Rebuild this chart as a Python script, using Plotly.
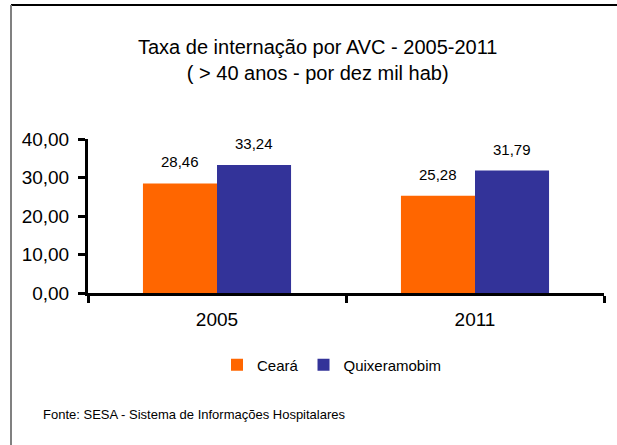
import plotly.graph_objects as go

categories = ["2005", "2011"]
ceara = [28.46, 25.28]
quixeramobim = [33.24, 31.79]
series_names = ["Ceará", "Quixeramobim"]
y_ticks = [0, 10, 20, 30, 40]

W, H = 617, 445
L, R, T, B = 88, 13, 139, 152
pw, ph = W - L - R, H - T - B

def px_x(p):
    return (p - L) / pw

def px_y(p):
    return (H - B - p) / ph

FONT = "Liberation Sans, Arial, sans-serif"

fig = go.Figure()
fig.add_bar(x=categories, y=ceara, name=series_names[0], marker=dict(color="#FF6600", line=dict(width=0)))
fig.add_bar(x=categories, y=quixeramobim, name=series_names[1], marker=dict(color="#333399", line=dict(width=0)))

annotations = []
for vals, shift in ((ceara, -37), (quixeramobim, 37)):
    for i, v in enumerate(vals):
        annotations.append(dict(
            x=i, y=v, xref="x", yref="y", text=f"{v:.2f}".replace(".", ","),
            showarrow=False, xshift=shift, yanchor="bottom", yshift=11,
            font=dict(family=FONT, size=15, color="#000000")))

annotations.append(dict(
    text="Taxa de internação por AVC - 2005-2011<br>( > 40 anos - por dez mil hab)",
    xref="paper", yref="paper", x=px_x(318), y=px_y(60), xanchor="center", yanchor="middle",
    showarrow=False, font=dict(family=FONT, size=20, color="#000000")))
annotations.append(dict(
    text="Fonte: SESA - Sistema de Informações Hospitalares",
    xref="paper", yref="paper", x=px_x(41), y=px_y(414), xanchor="left", yanchor="middle",
    showarrow=False, font=dict(family=FONT, size=13, color="#000000")))

fig.update_layout(
    width=W, height=H, autosize=False,
    margin=dict(l=L, r=R, t=T, b=B, pad=0),
    paper_bgcolor="white", plot_bgcolor="white",
    separators=",.",
    barmode="group", bargap=0.426, bargroupgap=0,
    showlegend=True,
    legend=dict(orientation="h", x=px_x(217), y=px_y(365), xanchor="left", yanchor="middle",
                font=dict(family=FONT, size=15, color="#000000"), itemwidth=30,
                bgcolor="rgba(0,0,0,0)", borderwidth=0),
    xaxis=dict(type="category", categoryorder="array", categoryarray=categories,
               range=[-0.5, 1.5], showline=True, linecolor="black", linewidth=3,
               ticks="outside", tickson="boundaries", ticklen=7, tickwidth=3, tickcolor="black",
               ticklabelstandoff=7,
               tickfont=dict(family=FONT, size=19, color="#000000"), showgrid=False, zeroline=False,
               fixedrange=True),
    xaxis2=dict(overlaying="x", anchor="y", side="bottom", range=[-0.5, 1.5],
                tickvals=[-0.5, 0.5, 1.5], ticks="inside", ticklen=7, tickwidth=3, tickcolor="black",
                showticklabels=False, showline=False, showgrid=False, zeroline=False),
    yaxis=dict(range=[0, 40], tickvals=y_ticks, tickformat=".2f", showline=True, linecolor="black",
               linewidth=3, ticks="outside", ticklen=7, tickwidth=3, tickcolor="black",
               ticklabelstandoff=5,
               tickfont=dict(family=FONT, size=19, color="#000000"), showgrid=False, zeroline=False),
    yaxis2=dict(overlaying="y", anchor="x", side="left", range=[0, 40], tickvals=y_ticks,
                ticks="inside", ticklen=7, tickwidth=3, tickcolor="black",
                showticklabels=False, showline=False, showgrid=False, zeroline=False),
    annotations=annotations,
    shapes=[
        dict(type="line", xref="paper", yref="paper", x0=px_x(11), x1=px_x(640), y0=px_y(5), y1=px_y(5),
             line=dict(color="black", width=2)),
        dict(type="line", xref="paper", yref="paper", x0=px_x(11), x1=px_x(11), y0=px_y(5), y1=px_y(445),
             line=dict(color="#808080", width=2)),
    ],
)

fig.write_html(
    "out.html",
    config={"displayModeBar": False},
    post_script="document.body.style.margin='0';document.body.style.padding='0';"
                "document.body.style.overflow='hidden';document.documentElement.style.overflow='hidden';",
)
